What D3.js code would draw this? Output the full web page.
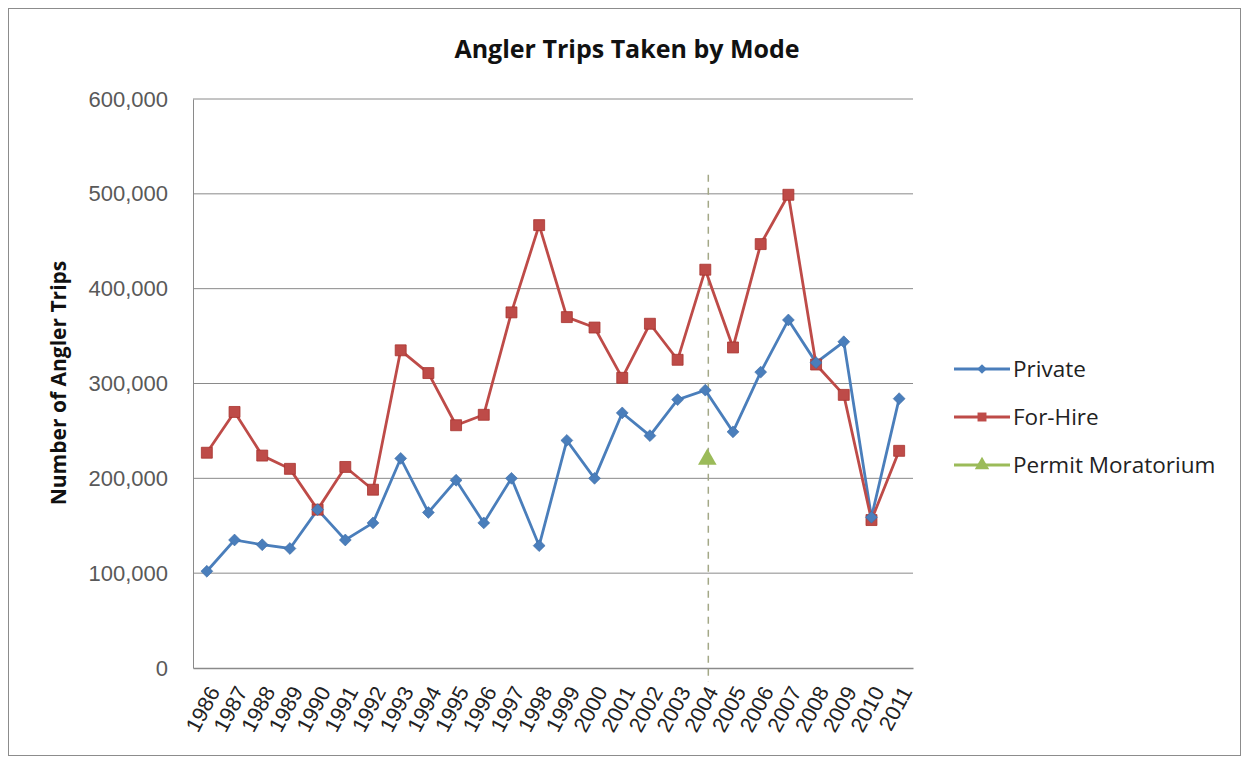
<!DOCTYPE html>
<html>
<head>
<meta charset="utf-8">
<script src="https://cdn.jsdelivr.net/npm/d3@7"></script>
<style>
  html, body { margin: 0; padding: 0; background: #fff; }
  svg { display: block; font-family: "Open Sans", "Liberation Sans", sans-serif; }
</style>
</head>
<body>
<svg id="chart" width="1244" height="759"></svg>
<script>
// Angler trips by mode, 1986–2011
const years = ["1986","1987","1988","1989","1990","1991","1992","1993","1994","1995","1996","1997","1998",
               "1999","2000","2001","2002","2003","2004","2005","2006","2007","2008","2009","2010","2011"];
const privateTrips = [102000,135000,130000,126000,167000,135000,153000,221000,164000,198000,153000,200000,129000,
                      240000,200000,269000,245000,283000,293000,249000,312000,367000,322000,344000,159000,284000];
const forHireTrips = [227000,270000,224000,210000,167000,212000,188000,335000,311000,256000,267000,375000,467000,
                      370000,359000,306000,363000,325000,420000,338000,447000,499000,320000,288000,156000,229000];
// Permit moratorium marker and its reference line
const moratoriumYear = "2004";
const moratoriumValue = 220000;
const moratoriumLineTop = 520000;
const yTicks = [0,100000,200000,300000,400000,500000,600000];
const seriesNames = ["Private","For-Hire","Permit Moratorium"];
const colors = { private: "#4A7EBB", forHire: "#BE4B48", permit: "#9BBB59" };

const svg = d3.select("#chart");
const W = 1244, H = 759;
const m = { left: 193, right: 331, top: 99, bottom: 91 };
const pw = W - m.left - m.right, ph = H - m.top - m.bottom;

// outer frame
svg.append("rect").attr("x", 8.5).attr("y", 8.5).attr("width", W - 12).attr("height", H - 12)
  .attr("fill", "#fff").attr("stroke", "#8c8c8c").attr("stroke-width", 1);

const x = d3.scaleBand().domain(years).range([m.left, m.left + pw]);
const y = d3.scaleLinear().domain([0, 600000]).range([m.top + ph, m.top]);
const cx = d => x(d) + x.bandwidth() / 2;

// gridlines
svg.append("g").selectAll("line").data(yTicks.filter(t => t > 0)).join("line")
  .attr("x1", m.left).attr("x2", m.left + pw)
  .attr("y1", d => y(d)).attr("y2", d => y(d))
  .attr("stroke", "#8a8a8a").attr("stroke-width", 1);

// y axis
const yAxis = svg.append("g").attr("transform", `translate(${m.left},0)`)
  .call(d3.axisLeft(y).tickValues(yTicks).tickFormat(d3.format(",")).tickSize(0).tickPadding(25));
yAxis.select(".domain").attr("stroke", "#8a8a8a");
yAxis.selectAll("text").attr("font-size", 22).attr("fill", "#595959");

// x axis
const xAxis = svg.append("g").attr("transform", `translate(0,${m.top + ph})`)
  .call(d3.axisBottom(x).tickSize(0).tickPadding(0));
xAxis.select(".domain").attr("stroke", "#8a8a8a").attr("stroke-width", 1.5);
xAxis.selectAll("text")
  .attr("font-size", 21.5).attr("fill", "#222")
  .attr("text-anchor", "end")
  .attr("dy", "0.35em")
  .attr("transform", "translate(7,20) rotate(-62)");

// moratorium reference line
svg.append("line")
  .attr("x1", cx(moratoriumYear) + 3).attr("x2", cx(moratoriumYear) + 3)
  .attr("y1", y(moratoriumLineTop)).attr("y2", y(0) + 14)
  .attr("stroke", "#a3a887").attr("stroke-width", 1.5).attr("stroke-dasharray", "7,6");

// series lines
const line = d3.line().x((d, i) => cx(years[i])).y(d => y(d));
svg.append("path").datum(privateTrips).attr("d", line)
  .attr("fill", "none").attr("stroke", colors.private).attr("stroke-width", 2.8);
svg.append("path").datum(forHireTrips).attr("d", line)
  .attr("fill", "none").attr("stroke", colors.forHire).attr("stroke-width", 2.8);

// markers
const diamond = d3.symbol().type(d3.symbolDiamond2).size(90);
const square = d3.symbol().type(d3.symbolSquare).size(120);
const triangle = d3.symbol().type(d3.symbolTriangle).size(150);

svg.append("g").selectAll("path").data(forHireTrips).join("path")
  .attr("d", square).attr("transform", (d, i) => `translate(${cx(years[i])},${y(d)})`)
  .attr("fill", colors.forHire).attr("stroke", "#a8332f").attr("stroke-width", 0.8);
svg.append("g").selectAll("path").data(privateTrips).join("path")
  .attr("d", diamond).attr("transform", (d, i) => `translate(${cx(years[i])},${y(d)})`)
  .attr("fill", colors.private).attr("stroke", "#3a6aa5").attr("stroke-width", 0.6);
svg.append("path").attr("d", triangle)
  .attr("transform", `translate(${cx(moratoriumYear) + 2},${y(moratoriumValue)})`)
  .attr("fill", colors.permit);

// title
svg.append("text").attr("x", 627).attr("y", 58).attr("text-anchor", "middle")
  .attr("font-size", 25).attr("font-weight", "bold").attr("fill", "#111")
  .text("Angler Trips Taken by Mode");

// y axis title
svg.append("text").attr("transform", `translate(66,383) rotate(-90)`).attr("text-anchor", "middle")
  .attr("font-size", 21).attr("font-weight", "bold").attr("fill", "#111")
  .text("Number of Angler Trips");

// legend
const legendColors = [colors.private, colors.forHire, colors.permit];
const lg = svg.append("g").selectAll("g").data(seriesNames).join("g")
  .attr("transform", (d, i) => `translate(954,${369 + i * 48})`);
lg.append("line").attr("x1", 0).attr("x2", 56).attr("stroke", (d, i) => legendColors[i]).attr("stroke-width", 2.8);
lg.append("path").attr("d", (d, i) => d3.symbol().type([d3.symbolDiamond2, d3.symbolSquare, d3.symbolTriangle][i]).size([60, 80, 90][i])())
  .attr("transform", "translate(28,0)").attr("fill", (d, i) => legendColors[i]);
lg.append("text").attr("x", 59).attr("dy", "0.35em").attr("font-size", 22.5).attr("fill", "#222")
  .text(d => d);
</script>
</body>
</html>
